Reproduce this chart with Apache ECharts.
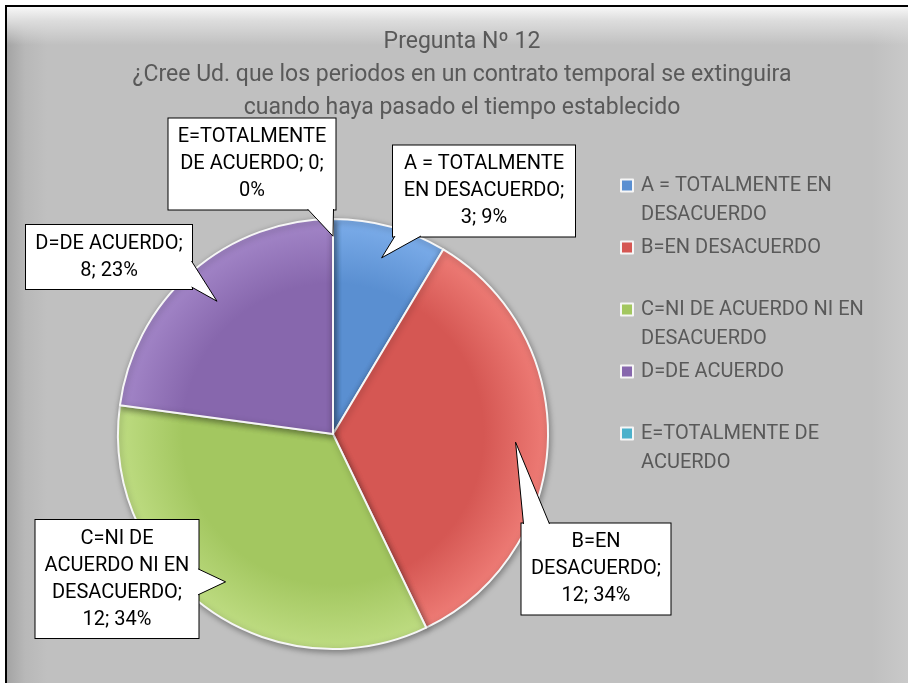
<!DOCTYPE html>
<html>
<head>
<meta charset="utf-8">
<script src="https://cdn.jsdelivr.net/npm/echarts@6/dist/echarts.min.js"></script>
<style>
    html, body { margin: 0; padding: 0; background: #fff; }
    body { position: relative; width: 908px; height: 683px; overflow: hidden; }
    #frame {
        position: absolute; left: 5px; top: 5px; right: 0; bottom: 0;
        border-left: 2px solid #000; border-top: 2px solid #000;
        background:
            linear-gradient(to bottom, #f7f7f7 0, #dcdcdc 14px, rgba(192,192,192,0) 38px),
            linear-gradient(to right, #a4a4a4 0, #b8b8b8 18px, rgba(192,192,192,0) 40px),
            linear-gradient(to left, #c9c9c9 0, rgba(192,192,192,0) 36px),
            #c0c0c0;
    }
    #chart { position: absolute; left: 0; top: 0; width: 908px; height: 683px; }
</style>
</head>
<body>
<div id="frame"></div>
<div id="chart"></div>
<script>
// datos de la pregunta 12
var categories = ['A = TOTALMENTE EN DESACUERDO', 'B=EN DESACUERDO', 'C=NI DE ACUERDO NI EN DESACUERDO', 'D=DE ACUERDO', 'E=TOTALMENTE DE ACUERDO'];
var counts = [3, 12, 12, 8, 0];
var titleLines = ['Pregunta Nº 12', '¿Cree Ud. que los periodos en un contrato temporal se extinguira', 'cuando haya pasado el tiempo establecido'];

var baseColors = ['#5a8fd1', '#d55753', '#a3c760', '#8767ad', '#4cb1cb'];
var lightColors = ['#7cadea', '#ee7c76', '#bedc82', '#a386c8', '#72cbe2'];

// callout boxes (center x, center y), text width and wrap width
var boxCenter = [[484, 191], [596, 569], [117, 579], [109, 257], [252, 164]];
var boxWidth = [166, 133, 147, 146, 150];
var wrapWidth = [170, 140, 150, 155, 165];
var tipFactor = [0.85, 0.85, 0.85, 0.82, 0.92];

var cx = 333, cy = 434, radius = 215;
var labelFont = '20px Roboto', legendFont = '20px Roboto';
var total = counts.reduce(function (s, v) { return s + v; }, 0);
var labelSize = [];

var measureCtx = document.createElement('canvas').getContext('2d');
function wrapText(text, font, maxWidth) {
    measureCtx.font = font;
    var words = text.split(' '), lines = [], cur = '';
    words.forEach(function (w) {
        var t = cur ? cur + ' ' + w : w;
        if (cur && measureCtx.measureText(t).width > maxWidth) {
            lines.push(cur);
            cur = w;
        } else {
            cur = t;
        }
    });
    if (cur) lines.push(cur);
    return lines;
}
function maxLineWidth(lines, font) {
    measureCtx.font = font;
    return Math.max.apply(null, lines.map(function (l) { return measureCtx.measureText(l).width; }));
}

var labelLines = categories.map(function (name, i) {
    var pct = Math.round(counts[i] / total * 100);
    return wrapText(name + '; ' + counts[i] + '; ' + pct + '%', labelFont, wrapWidth[i]);
});

var chart = echarts.init(document.getElementById('chart'), null, {renderer: 'canvas'});

var pieData = categories.map(function (name, i) {
    return {
        name: name,
        value: counts[i],
        itemStyle: {
            color: {
                type: 'radial', x: cx, y: cy, r: radius, global: true,
                colorStops: [
                    {offset: 0, color: baseColors[i]},
                    {offset: 0.7, color: baseColors[i]},
                    {offset: 1, color: lightColors[i]}
                ]
            }
        },
        label: {width: Math.max(boxWidth[i], Math.ceil(maxLineWidth(labelLines[i], labelFont)) + 2)}
    };
});

var legendData = categories.map(function (name, i) {
    return {name: name, itemStyle: {color: baseColors[i]}};
});

var option = {
    backgroundColor: 'transparent',
    title: {
        text: titleLines.join('\n'),
        left: 462,
        top: 26,
        padding: 0,
        textAlign: 'center',
        textStyle: {
            fontFamily: 'Roboto',
            fontWeight: 'normal',
            fontSize: 23,
            lineHeight: 33,
            color: '#595959'
        }
    },
    legend: {
        orient: 'vertical',
        left: 620,
        top: 142,
        padding: 0,
        itemGap: -25,
        itemWidth: 12,
        itemHeight: 12,
        icon: 'rect',
        selectedMode: false,
        data: legendData,
        formatter: function (name) {
            var lines = wrapText(name, legendFont, 232);
            // first line sits next to the marker
            return lines.length > 1 ? '\n' + lines.join('\n') : lines[0];
        },
        textStyle: {
            fontFamily: 'Roboto',
            fontSize: 20,
            color: '#595959',
            height: 87,
            lineHeight: 29,
            padding: [0, 0, 0, 3],
            backgroundColor: 'rgba(0,0,0,0)'
        }
    },
    series: [{
        type: 'pie',
        center: [cx, cy],
        radius: radius,
        startAngle: 90,
        clockwise: true,
        avoidLabelOverlap: false,
        silent: true,
        itemStyle: {
            borderColor: '#f6f6f6',
            borderWidth: 2,
            shadowBlur: 6,
            shadowColor: 'rgba(0,0,0,0.35)',
            shadowOffsetX: 1,
            shadowOffsetY: 2
        },
        label: {
            show: true,
            position: 'outside',
            formatter: function (p) {
                return labelLines[p.dataIndex].join('\n');
            },
            fontFamily: 'Roboto',
            fontSize: 20,
            lineHeight: 27,
            color: '#000',
            align: 'center',
            backgroundColor: '#fff',
            borderColor: '#000',
            borderWidth: 1,
            padding: [5, 8]
        },
        labelLine: {show: false},
        labelLayout: function (params) {
            var c = boxCenter[params.dataIndex];
            labelSize[params.dataIndex] = [params.labelRect.width, params.labelRect.height];
            return {x: c[0], y: c[1], align: 'center', verticalAlign: 'middle', hideOverlap: false};
        },
        data: pieData
    }]
};

chart.setOption(option);

// punteros de las llamadas (triangulos blancos)
function drawPointers() {
    var data = chart.getModel().getSeriesByIndex(0).getData();
    var elements = [];
    data.each(function (i) {
        var lay = data.getItemLayout(i);
        var mid = (lay.startAngle + lay.endAngle) / 2;
        var tr = lay.r * tipFactor[i];
        var tip = [lay.cx + tr * Math.cos(mid), lay.cy + tr * Math.sin(mid)];
        var sz = labelSize[i];
        if (!sz) return;
        var bx = boxCenter[i][0] - sz[0] / 2, by = boxCenter[i][1] - sz[1] / 2;
        var bw = sz[0], bh = sz[1];
        var dl = bx - tip[0], dr = tip[0] - (bx + bw), dt = by - tip[1], db = tip[1] - (by + bh);
        var m = Math.max(dl, dr, dt, db);
        var half = 13, a, b;
        if (m === db || m === dt) {
            var ey = m === db ? by + bh - 1.5 : by + 1.5;
            var mx = Math.min(Math.max(tip[0], bx + half + 3), bx + bw - half - 3);
            a = [mx - half, ey]; b = [mx + half, ey];
        } else {
            var ex = m === dr ? bx + bw - 1.5 : bx + 1.5;
            var my = Math.min(Math.max(tip[1], by + half + 3), by + bh - half - 3);
            a = [ex, my - half]; b = [ex, my + half];
        }
        elements.push({
            type: 'polygon', z: 100, silent: true,
            shape: {points: [a, tip, b]},
            style: {fill: '#fff', stroke: null}
        });
        elements.push({
            type: 'polyline', z: 101, silent: true,
            shape: {points: [a, tip, b]},
            style: {stroke: '#000', lineWidth: 1, fill: null}
        });
    });
    chart.setOption({graphic: {elements: elements}});
}
drawPointers();
</script>
</body>
</html>
